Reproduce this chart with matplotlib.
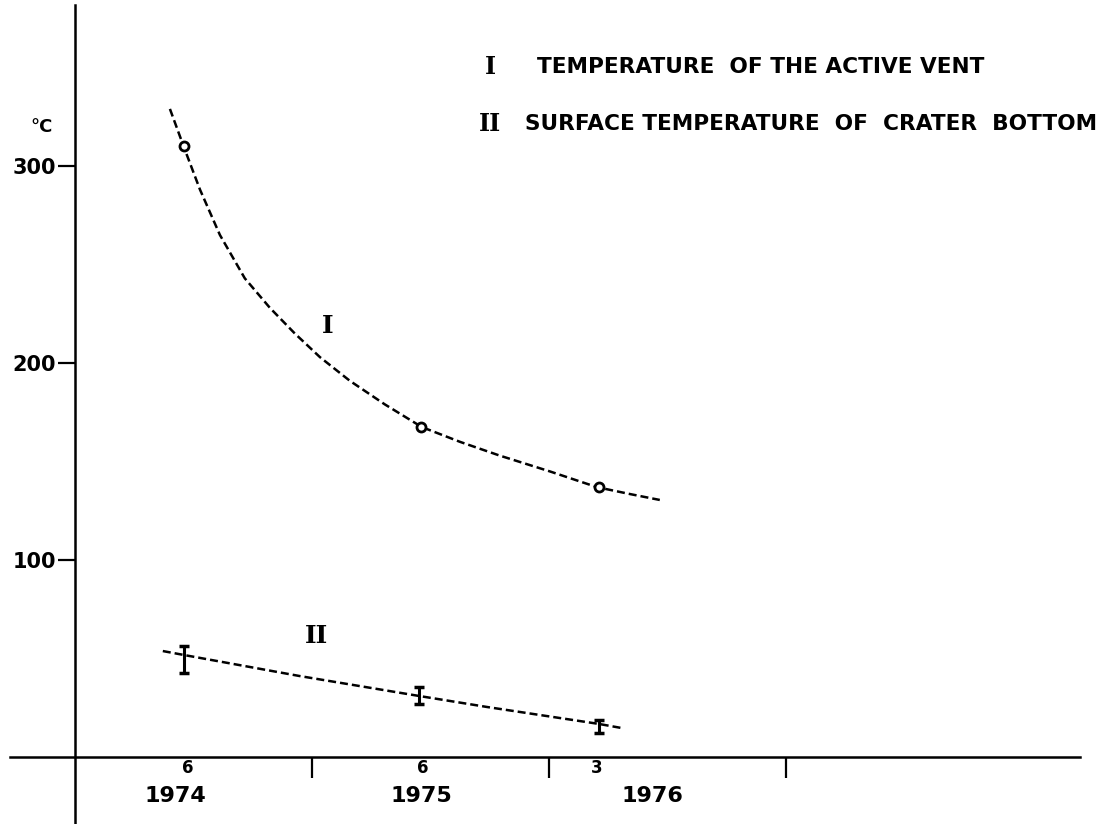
import matplotlib.pyplot as plt

# Serie I: temperatura del respiradero activo (puntos medidos, mitad de mes)
years_vent = [1974.458, 1975.458, 1976.208]
temp_vent = [310, 167.5, 137]

# curva I trazada a mano
curve_vent_x = [1974.399, 1974.458, 1974.526, 1974.610, 1974.715, 1974.821, 1974.926, 1975.032,
                1975.158, 1975.306, 1975.462, 1975.623, 1975.791, 1976.002, 1976.201, 1976.340,
                1976.466]
curve_vent_y = [329, 309.6, 288, 265, 243, 228, 215, 203,
                191, 179, 167.5, 160, 153, 145, 137, 133.5,
                130.5]

# Serie II: temperatura superficial del fondo del crater (con barras de error)
years_crater = [1974.458, 1975.45, 1976.208]
temp_crater = [49.5, 31.2, 15.5]
err_crater = [6.9, 4.3, 3.3]
curve_crater_x = [1974.369, 1974.458, 1974.947, 1975.450, 1975.737, 1976.209, 1976.306]
curve_crater_y = [53.8, 51.8, 41.1, 31.0, 25.4, 16.8, 14.7]

# ejes
yticks = [100, 200, 300]
ytick_labels = ['100', '200', '300']
year_ticks = [1975, 1976, 1977]
year_labels = ['1974', '1975', '1976']
year_label_pos = [1974.420, 1975.458, 1976.433]
month_labels = ['6', '6', '3']
month_pos = [1974.475, 1975.466, 1976.201]

W, H = 1107, 824
fig = plt.figure(figsize=(W / 100, H / 100), dpi=100)
ax = fig.add_axes([0, 0, 1, 1])
ax.set_xlim(1973.682, 1978.353)
ax.set_ylim(-34.0, 384.3)

for s in ['top', 'right']:
    ax.spines[s].set_visible(False)
ax.spines['left'].set_position(('data', 1974.0))
ax.spines['bottom'].set_position(('data', 0))
ax.spines['left'].set_bounds(-34, 382)
ax.spines['bottom'].set_bounds(1973.724, 1978.239)
for s in ['left', 'bottom']:
    ax.spines[s].set_linewidth(1.8)

ax.set_yticks(yticks, ytick_labels)
ax.tick_params(axis='y', direction='out', length=12, width=1.6, pad=2, labelsize=15)
for lbl in ax.get_yticklabels():
    lbl.set_fontweight('bold')
ax.set_xticks(year_ticks)
ax.tick_params(axis='x', direction='out', length=15, width=1.6, labelbottom=False)

for pos, lbl in zip(year_label_pos, year_labels):
    ax.text(pos, -22.6, lbl, ha='center', va='baseline', fontsize=16, fontweight='bold')
for pos, lbl in zip(month_pos, month_labels):
    ax.text(pos, -8.1, lbl, ha='center', va='baseline', fontsize=12, fontweight='bold')

# curva I
ax.plot(curve_vent_x, curve_vent_y, color='black', lw=1.8, dashes=(3.2, 1.6))
ax.plot(years_vent, temp_vent, 'o', color='black', mfc='white', ms=6.5, mew=2)

# curva II
ax.plot(curve_crater_x, curve_crater_y, color='black', lw=1.8, dashes=(3.2, 1.6))
ax.errorbar(years_crater, temp_crater, yerr=err_crater, fmt='none', ecolor='black',
            elinewidth=2.2, capsize=3.6, capthick=2.5)

# etiquetas de curvas
ax.text(1975.066, 215.2, 'I', family='DejaVu Serif', fontweight='bold', fontsize=18,
        ha='center', va='baseline')
ax.text(1975.019, 57.9, 'II', family='DejaVu Serif', fontweight='bold', fontsize=18,
        ha='center', va='baseline')

# leyenda
fig.text(490 / W, 1 - 74 / H, 'I', family='DejaVu Serif', fontweight='bold', fontsize=17,
         ha='center', va='baseline')
fig.text(537 / W, 1 - 73 / H, 'TEMPERATURE  OF THE ACTIVE VENT',
         fontweight='bold', fontsize=15.6, ha='left', va='baseline')
fig.text(490 / W, 1 - 131 / H, 'II', family='DejaVu Serif', fontweight='bold', fontsize=17,
         ha='center', va='baseline')
fig.text(525 / W, 1 - 130 / H, 'SURFACE TEMPERATURE  OF  CRATER  BOTTOM',
         fontweight='bold', fontsize=15.6, ha='left', va='baseline')

fig.text(42 / W, 1 - 132 / H, '°C', fontweight='bold', fontsize=13, ha='center', va='baseline')

fig.savefig('out.png', dpi=100, facecolor='white')
